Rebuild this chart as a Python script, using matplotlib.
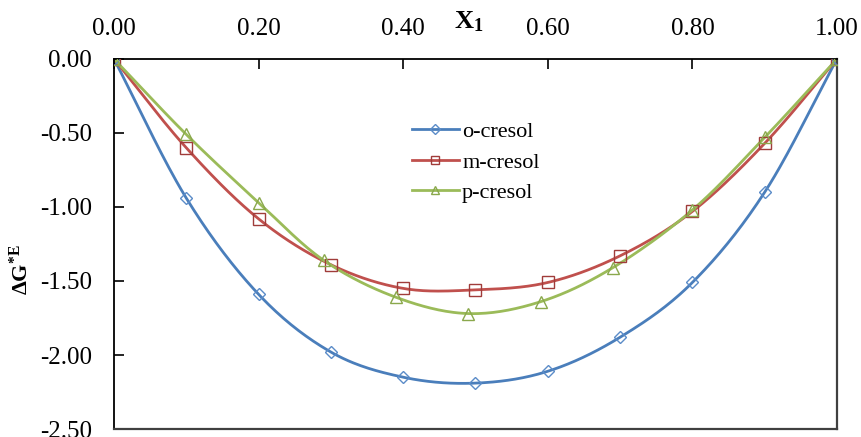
import numpy as np
import matplotlib
matplotlib.use("Agg")
import matplotlib.pyplot as plt

# Données
x_o = [0.0, 0.1, 0.2, 0.3, 0.4, 0.5, 0.6, 0.7, 0.8, 0.9, 1.0]
o_cresol = [0.0, -0.94, -1.59, -1.98, -2.15, -2.19, -2.11, -1.88, -1.51, -0.90, 0.0]

x_m = [0.0, 0.1, 0.2, 0.3, 0.4, 0.5, 0.6, 0.7, 0.8, 0.9, 1.0]
m_cresol = [0.0, -0.60, -1.08, -1.39, -1.55, -1.56, -1.51, -1.33, -1.03, -0.57, 0.0]

x_p = [0.0, 0.1, 0.2, 0.29, 0.39, 0.49, 0.59, 0.69, 0.8, 0.9, 1.0]
p_cresol = [0.0, -0.51, -0.97, -1.36, -1.61, -1.72, -1.64, -1.41, -1.02, -0.53, 0.0]

x_ticks = [0.0, 0.2, 0.4, 0.6, 0.8, 1.0]
y_ticks = [0.0, -0.5, -1.0, -1.5, -2.0, -2.5]


def smooth(xs, ys, n=30):
    """Lissage Catmull-Rom (comme les courbes lissées d'Excel)."""
    p = np.column_stack([xs, ys]).astype(float)
    p = np.vstack([2 * p[0] - p[1], p, 2 * p[-1] - p[-2]])
    out = []
    t = np.linspace(0, 1, n).reshape(-1, 1)
    for i in range(1, len(p) - 2):
        p0, p1, p2, p3 = p[i - 1], p[i], p[i + 1], p[i + 2]
        seg = 0.5 * ((2 * p1) + (-p0 + p2) * t
                     + (2 * p0 - 5 * p1 + 4 * p2 - p3) * t ** 2
                     + (-p0 + 3 * p1 - 3 * p2 + p3) * t ** 3)
        out.append(seg if i == 1 else seg[1:])
    out = np.vstack(out)
    return out[:, 0], out[:, 1]


plt.rcParams['font.family'] = ['Liberation Serif', 'DejaVu Serif']
plt.rcParams['mathtext.fontset'] = 'custom'
plt.rcParams['mathtext.rm'] = 'Liberation Serif'
plt.rcParams['mathtext.bf'] = 'Liberation Serif:bold'

fig = plt.figure(figsize=(8.61, 4.37), dpi=100)
ax = fig.add_axes([0.1324, 0.0183, 0.8397, 0.8467])

series = [
    (x_o, o_cresol, 'o-cresol', '#4A7EBB', '#5B8CC8', 'D', 6.5),
    (x_m, m_cresol, 'm-cresol', '#C0504D', '#A03C3A', 's', 8),
    (x_p, p_cresol, 'p-cresol', '#9BBB59', '#8AA84C', '^', 8),
]
for xs, ys, name, col, mcol, mk, ms in series:
    sx, sy = smooth(xs, ys)
    ax.plot(sx, sy, '-', color=col, lw=2.0, zorder=2)
    ax.plot(xs, ys, linestyle='none', marker=mk, ms=ms, mfc='none',
            mec=mcol, mew=1.0, zorder=3)
    # entrée de légende (ligne + marqueur)
    ax.plot([], [], '-', color=col, lw=2.0, marker=mk, ms=ms, mfc='none',
            mec=mcol, mew=1.0, label=name)

ax.set_xlim(0, 1)
ax.set_ylim(-2.5, 0)
ax.set_xticks(x_ticks)
ax.set_xticklabels([f'{v:.2f}' for v in x_ticks])
ax.set_yticks(y_ticks)
ax.set_yticklabels([f'{v:.2f}' for v in y_ticks])
ax.xaxis.tick_top()
ax.tick_params(axis='x', direction='in', length=7, width=1.2, labelsize=18,
               pad=14)
ax.tick_params(axis='y', direction='in', length=7, width=1.2, labelsize=18,
               pad=16)

for side in ['left', 'top']:
    ax.spines[side].set_color('black')
    ax.spines[side].set_linewidth(1.3)
for side in ['right', 'bottom']:
    ax.spines[side].set_color('#404040')
    ax.spines[side].set_linewidth(1.6)

ax.text(0.49, 1.10, r'$\mathbf{X_1}$', transform=ax.transAxes,
        ha='center', va='center', fontsize=19)
ax.text(-0.128, 0.43, r'$\mathbf{\Delta G^{*E}}$', transform=ax.transAxes,
        ha='center', va='center', rotation=90, fontsize=16)

ax.legend(loc='upper left', bbox_to_anchor=(0.4, 0.855), frameon=False,
          fontsize=16, handlelength=2.1, labelspacing=0.45,
          handletextpad=0.15, borderaxespad=0, markerscale=0.75)

fig.savefig('out.png', dpi=100)
